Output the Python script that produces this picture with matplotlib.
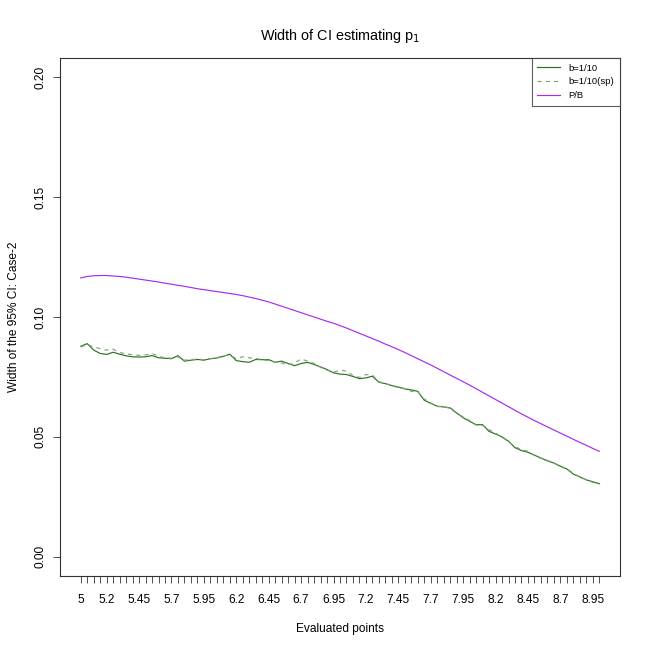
import numpy as np
import matplotlib
matplotlib.use("Agg")
import matplotlib.pyplot as plt

plt.rcParams['font.family'] = ['Liberation Sans', 'DejaVu Sans']

x_points = [round(5 + 0.05 * i, 2) for i in range(81)]

b10 = [0.0878, 0.0889, 0.0862, 0.0848, 0.0844, 0.0853, 0.0845, 0.0838, 0.0834, 0.0833,
       0.0834, 0.0839, 0.0830, 0.0828, 0.0826, 0.0839, 0.0816, 0.0820, 0.0823, 0.0820,
       0.0826, 0.0829, 0.0836, 0.0845, 0.0818, 0.0814, 0.0811, 0.0823, 0.0822, 0.0822,
       0.0811, 0.0816, 0.0806, 0.0797, 0.0806, 0.0811, 0.0802, 0.0792, 0.0781, 0.0767,
       0.0762, 0.0760, 0.0752, 0.0743, 0.0746, 0.0753, 0.0728, 0.0722, 0.0714, 0.0708,
       0.0700, 0.0696, 0.0690, 0.0653, 0.0640, 0.0628, 0.0625, 0.0621, 0.0600, 0.0580,
       0.0565, 0.0551, 0.0551, 0.0523, 0.0512, 0.0500, 0.0482, 0.0455, 0.0443, 0.0436,
       0.0424, 0.0412, 0.0400, 0.0391, 0.0378, 0.0366, 0.0345, 0.0333, 0.0321, 0.0313,
       0.0305]

b10_sp = [0.0875, 0.0885, 0.0876, 0.0868, 0.0862, 0.0866, 0.0852, 0.0846, 0.0843, 0.0840,
          0.0842, 0.0848, 0.0836, 0.0830, 0.0828, 0.0834, 0.0820, 0.0822, 0.0825, 0.0822,
          0.0826, 0.0830, 0.0838, 0.0842, 0.0826, 0.0834, 0.0830, 0.0827, 0.0822, 0.0818,
          0.0812, 0.0808, 0.0800, 0.0808, 0.0825, 0.0816, 0.0806, 0.0790, 0.0778, 0.0770,
          0.0778, 0.0775, 0.0756, 0.0748, 0.0760, 0.0758, 0.0730, 0.0724, 0.0712, 0.0706,
          0.0702, 0.0690, 0.0688, 0.0658, 0.0642, 0.0626, 0.0628, 0.0618, 0.0598, 0.0584,
          0.0568, 0.0549, 0.0548, 0.0530, 0.0516, 0.0498, 0.0480, 0.0460, 0.0446, 0.0440,
          0.0422, 0.0410, 0.0402, 0.0392, 0.0374, 0.0368, 0.0348, 0.0333, 0.0322, 0.0310,
          0.0303]

pb = [0.1163, 0.1169, 0.1172, 0.1173, 0.1173, 0.1171, 0.1169, 0.1166, 0.1162, 0.1158,
      0.1154, 0.1150, 0.1146, 0.1141, 0.1137, 0.1132, 0.1128, 0.1123, 0.1118, 0.1114,
      0.1110, 0.1106, 0.1102, 0.1098, 0.1094, 0.1089, 0.1083, 0.1077, 0.1070, 0.1063,
      0.1054, 0.1045, 0.1036, 0.1027, 0.1018, 0.1009, 0.1000, 0.0991, 0.0982, 0.0974,
      0.0964, 0.0954, 0.0943, 0.0932, 0.0921, 0.0910, 0.0899, 0.0887, 0.0876, 0.0864,
      0.0852, 0.0839, 0.0826, 0.0813, 0.0800, 0.0786, 0.0772, 0.0758, 0.0744, 0.0730,
      0.0716, 0.0701, 0.0686, 0.0671, 0.0656, 0.0641, 0.0626, 0.0611, 0.0596, 0.0582,
      0.0568, 0.0555, 0.0542, 0.0529, 0.0516, 0.0503, 0.0490, 0.0477, 0.0465, 0.0452,
      0.0440]

labelled_idx = [0, 4] + list(range(9, 81, 5))
y_ticks = [0.00, 0.05, 0.10, 0.15, 0.20]
y_ticklabels = ["0.00", "0.05", "0.10", "0.15", "0.20"]

fig = plt.figure(figsize=(6.5, 6.5), dpi=100)
ax = fig.add_axes([60/650, 74/650, 560/650, 518/650])

ax.plot(x_points, b10, color='#2f6e26', lw=0.85, label='b=1/10')
ax.plot(x_points, b10_sp, color='#7aa872', lw=0.85, dashes=(3.5, 3.5), label='b=1/10(sp)')
ax.plot(x_points, pb, color='#a52cf2', lw=0.85, label='P/B')

ax.set_xlim(4.84, 9.16)
ax.set_ylim(-0.008, 0.208)

ax.set_xticks(x_points)
ax.set_xticklabels([('%g' % x_points[i]) if i in labelled_idx else '' for i in range(81)])
ax.set_yticks(y_ticks)
ax.set_yticklabels(y_ticklabels, rotation=90, va='center')

ax.tick_params(axis='x', length=5, width=0.6, pad=8, labelsize=8.6, color='#333333')
ax.tick_params(axis='y', length=5, width=0.6, pad=5, labelsize=8.6, color='#333333')
for s in ax.spines.values():
    s.set_linewidth(0.8)
    s.set_color('#333333')

ax.set_title('Width of CI estimating p$_1$', fontsize=10.4, pad=13)
ax.set_xlabel('Evaluated points', fontsize=8.6, labelpad=12)
ax.set_ylabel('Width of the 95% CI: Case-2', fontsize=8.6, labelpad=10)

leg = ax.legend(loc='upper right', fontsize=6.8, frameon=True, fancybox=False,
                borderaxespad=0, handlelength=2.4, handletextpad=0.9,
                borderpad=0.6, labelspacing=0.5)
leg.get_frame().set_edgecolor('#333333')
leg.get_frame().set_linewidth(0.8)

fig.savefig('out.png', dpi=100)
